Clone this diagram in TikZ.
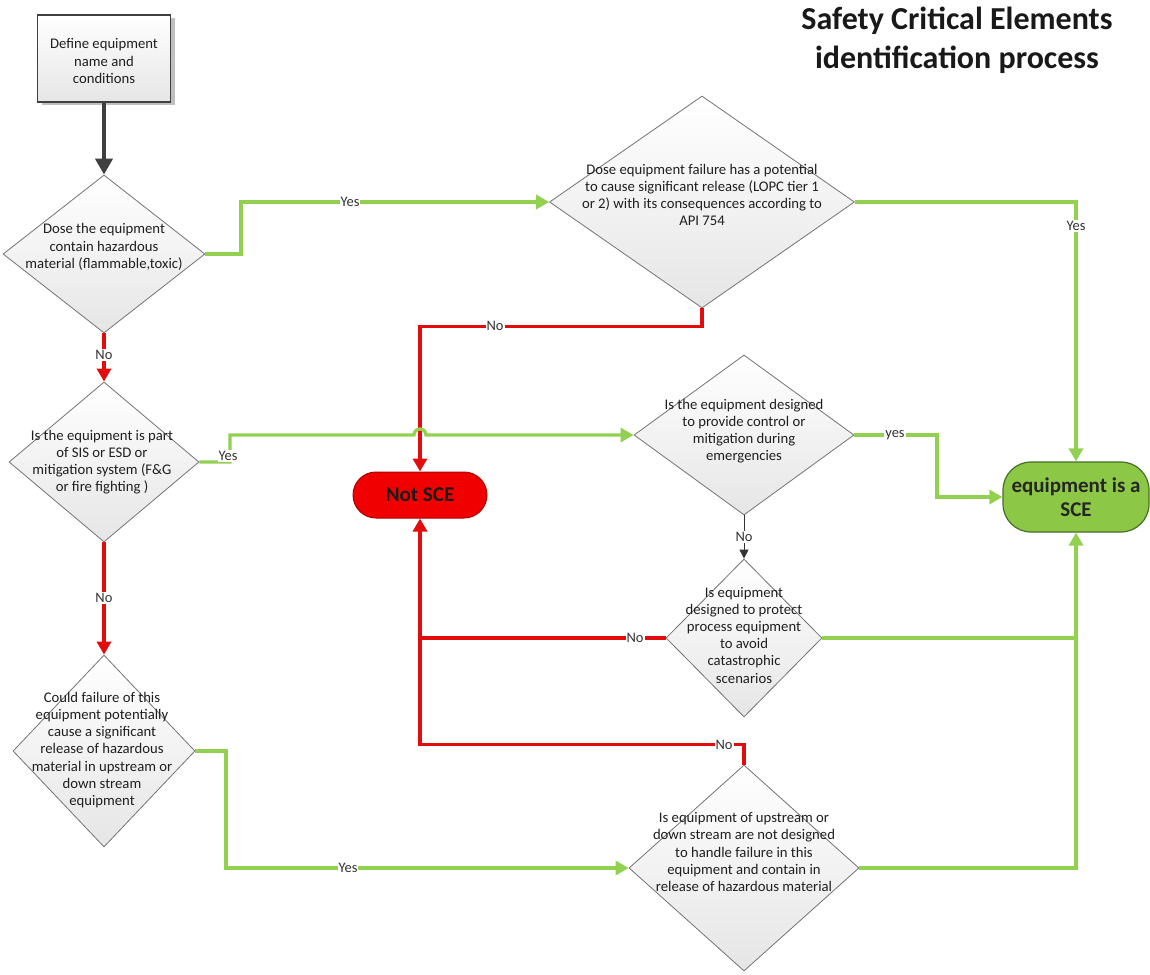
\documentclass[tikz,border=0pt]{standalone}
\usepackage{fontspec}
\setmainfont{Carlito}
\usetikzlibrary{shapes.geometric,shapes.misc,arrows.meta}
\definecolor{lgreen}{RGB}{146,208,80}
\definecolor{lred}{RGB}{226,12,12}
\definecolor{nsred}{RGB}{240,0,0}
\definecolor{nsborder}{RGB}{170,0,0}
\definecolor{scefill}{RGB}{140,200,70}
\definecolor{sceborder}{RGB}{70,110,40}
\definecolor{darkarrow}{RGB}{64,64,64}
\begin{document}
\begin{tikzpicture}[x=1pt,y=1pt,
  dia/.style={diamond, draw=black!55, line width=0.8pt, top color=white, bottom color=black!10, inner sep=0pt},
  dtxt/.style={align=center, font=\fontsize{14.7}{17.2}\selectfont, text=black!88, inner sep=0pt},
  gline/.style={draw=lgreen, line width=3.3pt},
  rline/.style={draw=lred, line width=3.3pt},
  garr/.style={gline, -{Triangle[length=13pt,width=14pt]}},
  rarr/.style={rline, -{Triangle[length=13pt,width=14pt]}},
  lab/.style={fill=white, inner sep=1pt, font=\fontsize{14.5}{16}\selectfont, text=black!80},
]
\useasboundingbox (0,0) rectangle (1150,-974);
\fill[white] (0,0) rectangle (1150,-974);

% title
\node[align=center, font=\fontsize{32}{39}\selectfont\bfseries, text=black!90] (title) at (957,-40) {Safety Critical Elements\\identification process};

% start box
\fill[black!25] (42,-18) rectangle (175,-105);
\node[draw=black!75, line width=1.2pt, top color=white, bottom color=black!10, minimum width=133, minimum height=87, inner sep=0pt] (box) at (104,-58.5) {};
\node[dtxt] (boxt) at (104,-61) {Define equipment\\name and\\conditions};

% diamonds
\node[dia, minimum width=202, minimum height=158] (d1) at (104,-254) {};
\node[dtxt] (d1t) at (104,-247) {Dose the equipment\\contain hazardous\\material (flammable,toxic)};

\node[dia, minimum width=305, minimum height=212] (d2) at (702,-202) {};
\node[dtxt] (d2t) at (702,-195) {Dose equipment failure has a potential\\to cause significant release (LOPC tier 1\\or 2) with its consequences according to\\API 754};

\node[dia, minimum width=190, minimum height=160] (d3) at (104,-462) {};
\node[dtxt] (d3t) at (102,-462) {Is the equipment is part\\of SIS or ESD or\\mitigation system (F\&G\\or fire fighting )};

\node[dia, minimum width=220, minimum height=160] (d4) at (744,-435) {};
\node[dtxt] (d4t) at (744,-431) {Is the equipment designed\\to provide control or\\mitigation during\\emergencies};

\node[dia, minimum width=156, minimum height=158] (d5) at (744,-638) {};
\node[dtxt] (d5t) at (744,-635) {Is equipment\\designed to protect\\process equipment\\to avoid\\catastrophic\\scenarios};

\node[dia, minimum width=182, minimum height=192] (d6) at (104,-751) {};
\node[dtxt] (d6t) at (102,-750) {Could failure of this\\equipment potentially\\cause a significant\\release of hazardous\\material in upstream or\\down stream\\equipment};

\node[dia, minimum width=230, minimum height=206] (d7) at (744,-868) {};
\node[dtxt] (d7t) at (744,-852) {Is equipment of upstream or\\down stream are not designed\\to handle failure in this\\equipment and contain in\\release of hazardous material};

% terminals
\node[rounded rectangle, draw=nsborder, line width=1pt, fill=nsred, minimum width=134, minimum height=46, inner sep=0pt,
      font=\fontsize{21}{24}\selectfont\bfseries, text=black!90] (ns) at (420,-495) {Not SCE};
\node[draw=sceborder, line width=1.2pt, fill=scefill, rounded corners=28pt, minimum width=146, minimum height=70, inner sep=0pt,
      align=center, font=\fontsize{21}{24}\selectfont\bfseries, text=black!85] (sce) at (1076,-497) {equipment is a\\SCE};

% connectors
\draw[draw=darkarrow, line width=4pt, -{Triangle[length=16pt,width=17pt]}] (box.south) -- (d1.north);

\draw[rarr] (d2.south) -- ++(0,-18) -| (ns.north);
\draw[rarr] (d5.west) -| (ns.south);
\draw[rline] (d7.north) -- ++(0,20) -| (ns.south |- d5.west);
\draw[rarr] (d1.south) -- (d3.north);
\draw[rarr] (d3.south) -- (d6.north);

\draw[garr] (d1.east) -- (241,-254) |- (d2.west);
\draw[garr] (d2.east) -| (sce.north);
\draw[garr] (d3.east) -- (230,-462) -- (230,-435) -- (414,-435) arc[start angle=180,end angle=0,radius=6] -- (d4.west);
\draw[garr] (d4.east) -- (937,-435) |- (sce.west);
\draw[gline] (d5.east) -- (d5.east -| sce.south);
\draw[garr] (d6.east) -- (226,-751) |- (d7.west);
\draw[garr] (d7.east) -| (sce.south);

\draw[draw=black!80, line width=1pt, -{Triangle[length=9pt,width=9pt]}] (d4.south) -- (d5.north);

% labels
\node[lab] (l1) at (350,-202) {Yes};
\node[lab] (l2) at (1076,-226) {Yes};
\node[lab] (l3) at (495,-326) {No};
\node[lab] (l4) at (104,-355) {No};
\node[lab] (l5) at (228,-456) {Yes};
\node[lab] (l6) at (895,-435) {yes};
\node[lab] (l7) at (744,-537) {No};
\node[lab] (l8) at (635,-638) {No};
\node[lab] (l9) at (104,-598) {No};
\node[lab] (l10) at (348,-868) {Yes};
\node[lab] (l11) at (724,-745) {No};
\end{tikzpicture}
\end{document}
